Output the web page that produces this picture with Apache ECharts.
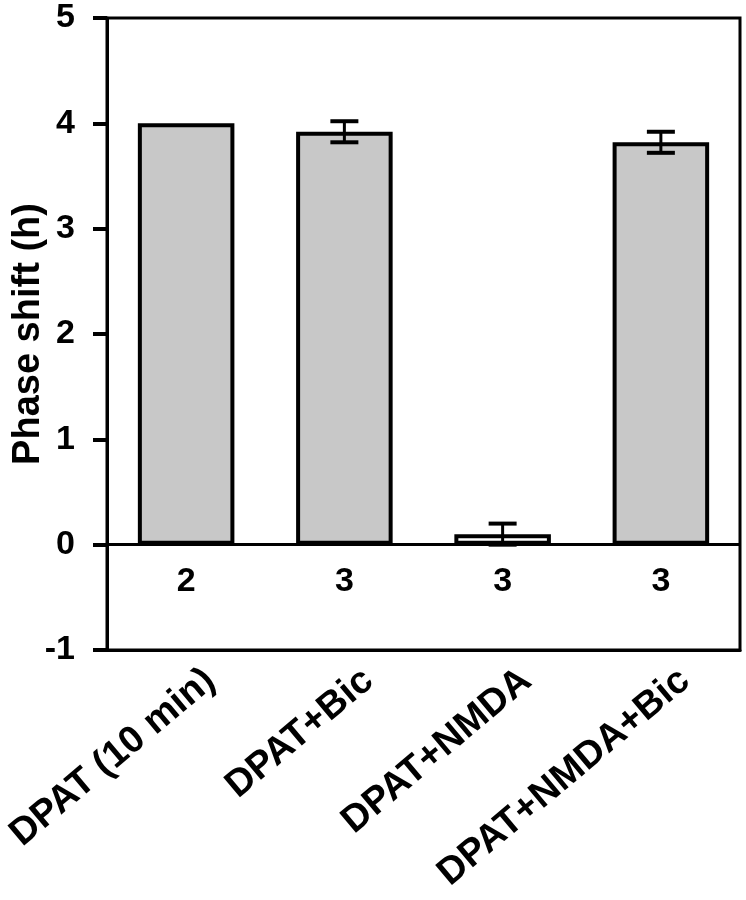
<!DOCTYPE html>
<html>
<head>
<meta charset="utf-8">
<script src="https://cdn.jsdelivr.net/npm/echarts@6/dist/echarts.min.js"></script>
<style>
html,body{margin:0;padding:0;background:#fff;}
#chart{width:746px;height:900px;}
</style>
</head>
<body>
<div id="chart"></div>
<script>
var categories = ['DPAT (10 min)', 'DPAT+Bic', 'DPAT+NMDA', 'DPAT+NMDA+Bic'];
var means = [4.0, 3.92, 0.1, 3.82];
var errors = [0, 0.1, 0.1, 0.1];
var nValues = ['2', '3', '3', '3'];
var yTicks = [-1, 0, 1, 2, 3, 4, 5];

var FONT = 'Liberation Sans, Arial, sans-serif';
var chart = echarts.init(document.getElementById('chart'));

var barData = means.map(function (v, i) {
  return {
    value: v,
    itemStyle: { color: i === 2 ? '#ffffff' : '#c8c8c8' }
  };
});
var errData = means.map(function (v, i) { return [i, v, errors[i]]; });
var nData = nValues.map(function (n, i) { return [i, -0.35, n]; });
var catLabelData = categories.map(function (c, i) { return [i, -1, c]; });

chart.setOption({
  animation: false,
  backgroundColor: '#ffffff',
  grid: {
    left: 107, right: 6, top: 18, bottom: 250,
    containLabel: false, outerBoundsMode: 'none',
    show: true, borderColor: '#000', borderWidth: 3, backgroundColor: 'transparent'
  },
  xAxis: {
    type: 'category',
    data: categories,
    axisLine: { onZero: false, lineStyle: { color: '#000', width: 3 } },
    axisTick: { show: false },
    axisLabel: { show: false }
  },
  yAxis: {
    type: 'value',
    min: -1, max: 5, interval: 1,
    name: 'Phase shift (h)',
    nameLocation: 'middle',
    nameGap: 59,
    nameMoveOverlap: false,
    nameTextStyle: { color: '#000', fontFamily: FONT, fontWeight: 'bold', fontSize: 38 },
    axisLine: { show: true, lineStyle: { color: '#000', width: 3 } },
    axisTick: { show: true, inside: false, length: 14, lineStyle: { color: '#000', width: 4 } },
    splitLine: { show: false },
    axisLabel: {
      margin: 32, color: '#000', fontFamily: FONT, fontWeight: 'bold', fontSize: 34,
      formatter: function (v) { return yTicks.indexOf(v) >= 0 ? String(v) : ''; }
    }
  },
  series: [
    {
      type: 'bar',
      data: barData,
      barCategoryGap: '39%',
      itemStyle: { borderColor: '#000', borderWidth: 4 },
      markLine: {
        silent: true,
        symbol: ['none', 'none'],
        label: { show: false },
        lineStyle: { color: '#000', width: 3, type: 'solid' },
        data: [{ yAxis: 0 }]
      },
      z: 2
    },
    {
      type: 'custom',
      data: errData,
      z: 5,
      renderItem: function (params, api) {
        var i = api.value(0), m = api.value(1), e = api.value(2);
        if (!e) return null;
        var hi = api.coord([i, m + e]);
        var lo = api.coord([i, m - e]);
        var cap = 14;
        var st = { stroke: '#000', lineWidth: 4 };
        return {
          type: 'group',
          children: [
            { type: 'line', shape: { x1: hi[0], y1: hi[1], x2: lo[0], y2: lo[1] }, style: { stroke: '#000', lineWidth: 3 } },
            { type: 'line', shape: { x1: hi[0] - cap, y1: hi[1], x2: hi[0] + cap, y2: hi[1] }, style: st },
            { type: 'line', shape: { x1: lo[0] - cap, y1: lo[1], x2: lo[0] + cap, y2: lo[1] }, style: st }
          ]
        };
      }
    },
    {
      type: 'scatter',
      data: nData,
      symbolSize: 1,
      silent: true,
      itemStyle: { color: 'rgba(0,0,0,0)', opacity: 1 },
      label: {
        show: true, position: 'inside',
        color: '#000', fontFamily: FONT, fontWeight: 'bold', fontSize: 34,
        formatter: function (p) { return p.data[2]; }
      }
    },
    {
      type: 'scatter',
      data: catLabelData,
      symbolSize: 1,
      silent: true,
      clip: false,
      itemStyle: { color: 'rgba(0,0,0,0)', opacity: 1 },
      label: {
        show: true, position: 'inside',
        rotate: 40, align: 'right', verticalAlign: 'middle',
        offset: [1.7, 35.3],
        color: '#000', fontFamily: FONT, fontWeight: 'bold', fontSize: 38,
        formatter: function (p) { return p.data[2]; }
      }
    }
  ]
});
</script>
</body>
</html>
